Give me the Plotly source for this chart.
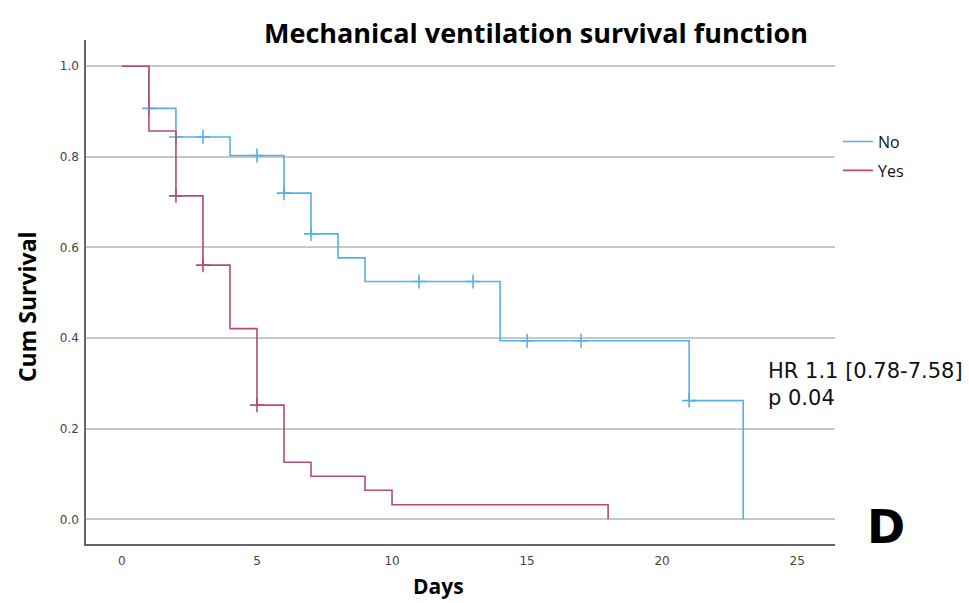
import plotly.graph_objects as go

# Kaplan-Meier step data
no_times = [0, 1, 2, 4, 6, 7, 8, 9, 14, 21, 23]
no_surv = [1.0, 0.907, 0.844, 0.803, 0.720, 0.630, 0.577, 0.525, 0.394, 0.262, 0.0]
no_cens_t = [1, 2, 3, 5, 6, 7, 11, 13, 15, 17, 21]
no_cens_s = [0.907, 0.844, 0.844, 0.803, 0.720, 0.630, 0.525, 0.525, 0.394, 0.394, 0.262]

yes_times = [0, 1, 2, 3, 4, 5, 6, 7, 9, 10, 18]
yes_surv = [1.0, 0.857, 0.714, 0.561, 0.421, 0.252, 0.126, 0.095, 0.064, 0.032, 0.0]
yes_cens_t = [2, 3, 5]
yes_cens_s = [0.714, 0.561, 0.252]

x_ticks = [0, 5, 10, 15, 20, 25]
y_ticks = [0.0, 0.2, 0.4, 0.6, 0.8, 1.0]

BLUE = "#55B0EA"
RED = "#B24C78"

fig = go.Figure()
fig.add_trace(go.Scatter(x=no_times, y=no_surv, mode="lines", line=dict(shape="hv", color=BLUE, width=1.6),
                         name="No", legendgroup="no"))
fig.add_trace(go.Scatter(x=no_cens_t, y=no_cens_s, mode="markers", showlegend=False, legendgroup="no",
                         marker=dict(symbol="cross-thin", size=10, line=dict(color=BLUE, width=1.6))))
fig.add_trace(go.Scatter(x=yes_times, y=yes_surv, mode="lines", line=dict(shape="hv", color=RED, width=1.6),
                         name="Yes", legendgroup="yes"))
fig.add_trace(go.Scatter(x=yes_cens_t, y=yes_cens_s, mode="markers", showlegend=False, legendgroup="yes",
                         marker=dict(symbol="cross-thin", size=10, line=dict(color=RED, width=1.6))))

fig.update_layout(
    width=969, height=603,
    margin=dict(l=86, r=134, t=40, b=59),
    paper_bgcolor="white", plot_bgcolor="white",
    showlegend=True,
    legend=dict(x=1.004, y=0.832, xanchor="left", yanchor="top", bgcolor="rgba(0,0,0,0)",
                font=dict(family="Open Sans", size=16, color="#111"), itemwidth=30, tracegroupgap=5),
    xaxis=dict(range=[-1.33, 26.4], tickvals=x_ticks, ticktext=[str(v) for v in x_ticks],
               showgrid=False, zeroline=False, showline=True, linecolor="#666", linewidth=1.5,
               ticks="", ticklabelstandoff=5,
               tickfont=dict(family="DejaVu Sans", size=12, color="#444")),
    yaxis=dict(range=[-0.0545, 1.058], tickvals=y_ticks, ticktext=[f"{v:.1f}" for v in y_ticks],
               showgrid=True, gridcolor="#c8c8c8", gridwidth=1.5, zeroline=False,
               showline=True, linecolor="#666", linewidth=1.5, ticks="", ticklabelstandoff=3,
               tickfont=dict(family="DejaVu Sans", size=12, color="#444")),
    annotations=[
        dict(text="<b>Mechanical ventilation survival function</b>", xref="paper", yref="paper",
             x=0.601, y=1.014, xanchor="center", yanchor="middle", showarrow=False,
             font=dict(family="Open Sans", size=27, color="#000")),
        dict(text="<b>Cum Survival</b>", xref="paper", yref="paper", x=-0.0788, y=0.472,
             xanchor="center", yanchor="middle", textangle=-90, showarrow=False,
             font=dict(family="Open Sans", size=23, color="#000")),
        dict(text="<b>Days</b>", xref="paper", yref="paper", x=0.47, y=(544 - 586) / 504,
             xanchor="center", yanchor="middle", showarrow=False,
             font=dict(family="Open Sans", size=21, color="#000")),
        dict(text="HR 1.1 [0.78-7.58]<br>p 0.04", xref="paper", yref="paper",
             x=(766 - 86) / 749, y=(544 - 357) / 504, xanchor="left", yanchor="top", align="left",
             showarrow=False, font=dict(family="DejaVu Sans", size=21, color="#111")),
        dict(text="<b>D</b>", xref="paper", yref="paper", x=(886 - 86) / 749, y=(544 - 527) / 504,
             xanchor="center", yanchor="middle", showarrow=False,
             font=dict(family="DejaVu Sans", size=46, color="#000")),
    ],
)

fig.write_html("out.html")
